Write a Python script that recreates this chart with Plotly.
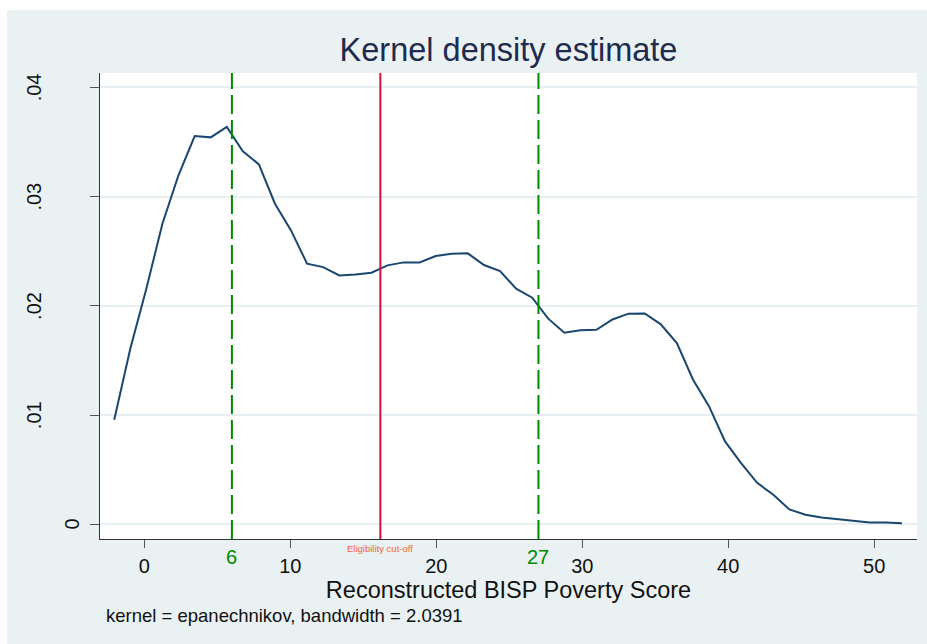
import plotly.graph_objects as go

# ---- data ----
score = [-2.06, -0.96, 0.14, 1.24, 2.34, 3.45, 4.55, 5.65, 6.75, 7.85,
         8.95, 10.05, 11.15, 12.25, 13.36, 14.46, 15.56, 16.66, 17.76, 18.86,
         19.96, 21.06, 22.16, 23.27, 24.37, 25.47, 26.57, 27.67, 28.77, 29.87,
         30.97, 32.07, 33.17, 34.28, 35.38, 36.48, 37.58, 38.68, 39.78, 40.88,
         41.98, 43.09, 44.19, 45.29, 46.39, 47.49, 48.59, 49.69, 50.79, 51.90]
density = [0.00958, 0.01608, 0.02157, 0.02752, 0.03195, 0.03554, 0.03542, 0.03637, 0.03414, 0.03295,
           0.02935, 0.02691, 0.02386, 0.02355, 0.02279, 0.02288, 0.02304, 0.02371, 0.02398, 0.02398,
           0.02456, 0.02478, 0.02481, 0.02374, 0.02318, 0.02157, 0.02075, 0.01883, 0.01755, 0.01776,
           0.01782, 0.01876, 0.01929, 0.01931, 0.01831, 0.01660, 0.01327, 0.01083, 0.00760, 0.00561,
           0.00381, 0.00272, 0.00137, 0.00089, 0.00064, 0.00049, 0.00034, 0.00018, 0.00018, 0.00012]
ref_lines = [6, 27]
cutoff = 16.17
x_ticks = [0, 10, 20, 30, 40, 50]
y_ticks = [0, 0.01, 0.02, 0.03, 0.04]
y_tick_text = ["0", ".01", ".02", ".03", ".04"]

FONT = "Arial, Liberation Sans, sans-serif"
BG = "#EAF1F3"
GRID = "#E8EFF2"
PLOT_L, PLOT_W = 100, 817

fig = go.Figure()
fig.add_trace(go.Scatter(x=score, y=density, mode="lines",
                         line=dict(color="#1A476F", width=2), showlegend=False))

for v in ref_lines:
    fig.add_shape(type="line", xref="x", yref="paper", x0=v, x1=v, y0=0, y1=1,
                  line=dict(color="#008A00", width=2, dash="19px,6px"))
    fig.add_annotation(x=v, xref="x", y=0, yref="paper", yshift=-18, yanchor="middle",
                       text=str(v), showarrow=False,
                       font=dict(family=FONT, size=20, color="#008A00"))

fig.add_shape(type="line", xref="x", yref="paper", x0=cutoff, x1=cutoff, y0=0, y1=1,
              line=dict(color="#D0103A", width=2))
fig.add_annotation(x=cutoff, xref="x", y=0, yref="paper", yshift=-9, yanchor="middle",
                   text="Eligibility cut-off", showarrow=False,
                   font=dict(family=FONT, size=9.5, color="#F4663A"))

# rotated y tick labels (Stata places the single-character label closer to the axis)
for val, lab in zip(y_ticks, y_tick_text):
    px = 72 if len(lab) == 1 else 34
    fig.add_annotation(x=(px - PLOT_L) / PLOT_W, xref="paper", xanchor="center",
                       y=val, yref="y", yanchor="middle", text=lab, textangle=-90,
                       showarrow=False, font=dict(family=FONT, size=20, color="#111111"))

# note
fig.add_annotation(x=0.005, xref="paper", xanchor="left", y=0, yref="paper", yshift=-76,
                   yanchor="middle", text="kernel = epanechnikov, bandwidth = 2.0391",
                   showarrow=False, font=dict(family=FONT, size=18.5, color="#111111"))

# white border strips (top and left) of the exported image
fig.add_shape(type="rect", xref="paper", yref="paper", x0=-0.13, x1=1.02, y0=1.1352, y1=1.17,
              fillcolor="white", line=dict(width=0), layer="below")
fig.add_shape(type="rect", xref="paper", yref="paper", x0=-0.13, x1=-0.1138, y0=-0.25, y1=1.17,
              fillcolor="white", line=dict(width=0), layer="below")

fig.update_layout(
    width=927, height=644,
    margin=dict(l=PLOT_L, r=10, t=73, b=105),
    paper_bgcolor=BG, plot_bgcolor="white",
    title=dict(text="Kernel density estimate", x=0.5, xref="paper", xanchor="center",
               y=1 - 50 / 644, yref="container", yanchor="middle",
               font=dict(family=FONT, size=32.5, color="#1E2B4F")),
    font=dict(family=FONT, color="#111111"),
)
fig.update_xaxes(range=[-3.035, 52.93], tickvals=x_ticks, showgrid=False, zeroline=False,
                 showline=True, linecolor="#333333", linewidth=1,
                 ticks="outside", ticklen=8, tickcolor="#555555", tickwidth=1,
                 tickfont=dict(family=FONT, size=20, color="#111111"),
                 ticklabelstandoff=1,
                 title=dict(text="Reconstructed BISP Poverty Score", standoff=0,
                            font=dict(family=FONT, size=23.5, color="#111111")))
fig.update_yaxes(range=[-0.00133, 0.04131], tickvals=y_ticks, showticklabels=False,
                 showgrid=True, gridcolor=GRID, gridwidth=2, zeroline=False,
                 showline=True, linecolor="#333333", linewidth=1,
                 ticks="outside", ticklen=9, tickcolor="#555555", tickwidth=1)

fig.write_html("out.html", config={"displayModeBar": False},
               post_script="document.body.style.margin='0px';document.body.style.overflow='hidden';")
